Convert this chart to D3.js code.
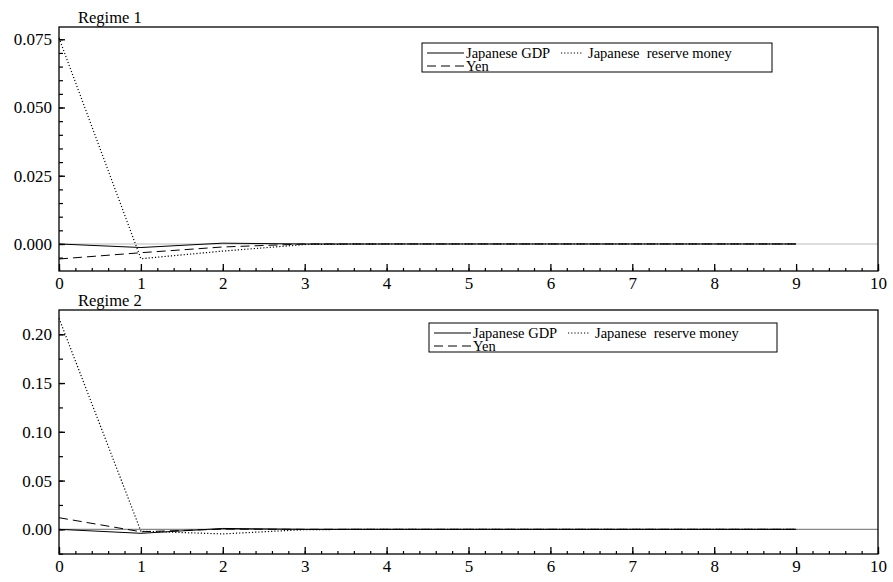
<!DOCTYPE html>
<html>
<head>
<meta charset="utf-8">
<script src="https://cdn.jsdelivr.net/npm/d3@7"></script>
<style>
  body { margin: 0; background: #fff; }
  svg, svg text { font-family: "Liberation Serif", "Times New Roman", serif; }
  .domain { display: none; }
</style>
</head>
<body>
<svg width="893" height="582"></svg>
<script>
const horizon = [0, 1, 2, 3, 4, 5, 6, 7, 8, 9];
const xTicks = [0, 1, 2, 3, 4, 5, 6, 7, 8, 9, 10];

// regime 1 responses
const r1Gdp = [0, -0.0013, 0.0003, 0, 0, 0, 0, 0, 0, 0];
const r1Money = [0.0755, -0.0054, -0.0026, -0.0002, 0, 0, 0, 0, 0, 0];
const r1Yen = [-0.0055, -0.0032, -0.0011, 0, 0, 0, 0, 0, 0, 0];
const r1YTicks = [0, 0.025, 0.05, 0.075];

// regime 2 responses
const r2Gdp = [0, -0.0041, 0.0009, 0, 0, 0, 0, 0, 0, 0];
const r2Money = [0.2164, -0.0019, -0.0047, -0.0003, 0, 0, 0, 0, 0, 0];
const r2Yen = [0.0119, -0.0025, 0.0002, 0, 0, 0, 0, 0, 0, 0];
const r2YTicks = [0, 0.05, 0.1, 0.15, 0.2];

const seriesNames = ['Japanese GDP', 'Japanese  reserve money', 'Yen'];

const left = 59, right = 878;
const serif = '"Liberation Serif", "Times New Roman", serif';
const svg = d3.select('svg');

const panels = [
    {title: 'Regime 1', top: 27, bottom: 271, domain: [-0.0099, 0.0795], ticks: r1YTicks,
     minorStep: 0.005, fmt: '.3f', data: [r1Gdp, r1Money, r1Yen], zeroColor: '#bbb',
     legend: {x: 422, y: 43, w: 350}},
    {title: 'Regime 2', top: 310, bottom: 554, domain: [-0.0253, 0.2249], ticks: r2YTicks,
     minorStep: 0.025, fmt: '.2f', data: [r2Gdp, r2Money, r2Yen], zeroColor: '#888',
     legend: {x: 429, y: 323, w: 348}}
];

const dashes = [null, '1.2,2', '9,5'];

const x = d3.scaleLinear().domain([0, 10]).range([left, right]);

panels.forEach(p => {
    const y = d3.scaleLinear().domain(p.domain).range([p.bottom, p.top]);
    const g = svg.append('g');

    // zero line
    g.append('line')
        .attr('x1', x(0)).attr('x2', x(10))
        .attr('y1', y(0)).attr('y2', y(0))
        .attr('stroke', p.zeroColor).attr('stroke-width', 1.2);

    // minor x ticks
    g.append('g')
        .attr('transform', 'translate(0,' + p.bottom + ')')
        .call(d3.axisBottom(x).tickValues(d3.range(0, 10.001, 0.2)).tickSize(-3).tickFormat(''))
        .selectAll('line').attr('stroke-width', 1.2);

    // major x ticks
    const xa = g.append('g')
        .attr('transform', 'translate(0,' + p.bottom + ')')
        .call(d3.axisBottom(x).tickValues(xTicks).tickSize(-7).tickPadding(6).tickFormat(d3.format('d')));
    xa.selectAll('line').attr('stroke-width', 1.3);
    xa.selectAll('text').style('font-family', serif).style('font-size', '17px');

    // minor y ticks
    const minor = d3.range(Math.ceil(p.domain[0] / p.minorStep) * p.minorStep, p.domain[1], p.minorStep);
    g.append('g')
        .attr('transform', 'translate(' + left + ',0)')
        .call(d3.axisLeft(y).tickValues(minor).tickSize(-4).tickFormat(''))
        .selectAll('line').attr('stroke-width', 1.2);

    // major y ticks
    const ya = g.append('g')
        .attr('transform', 'translate(' + left + ',0)')
        .call(d3.axisLeft(y).tickValues(p.ticks).tickSize(-6).tickPadding(7).tickFormat(d3.format(p.fmt)));
    ya.selectAll('line').attr('stroke-width', 1.3);
    ya.selectAll('text').style('font-family', serif).style('font-size', '17px');

    // frame
    g.append('rect')
        .attr('x', left).attr('y', p.top)
        .attr('width', right - left).attr('height', p.bottom - p.top)
        .attr('fill', 'none').attr('stroke', '#000').attr('stroke-width', 1.3);

    // series
    const line = d3.line().x((d, i) => x(horizon[i])).y(d => y(d));
    p.data.forEach((vals, k) => {
        g.append('path')
            .attr('d', line(vals))
            .attr('fill', 'none')
            .attr('stroke', '#000')
            .attr('stroke-width', k === 1 ? 1.2 : 1)
            .attr('stroke-dasharray', dashes[k]);
    });

    // title
    g.append('text')
        .attr('x', 78).attr('y', p.top - 4)
        .style('font-size', '16.5px')
        .text(p.title);

    // legend
    const L = p.legend;
    const lg = g.append('g').attr('transform', 'translate(' + L.x + ',' + L.y + ')');
    lg.append('rect')
        .attr('width', L.w).attr('height', 29)
        .attr('fill', '#fff').attr('stroke', '#000').attr('stroke-width', 1);
    const items = [
        {k: 0, lx: 5, ly: 10},
        {k: 1, lx: 139, ly: 10},
        {k: 2, lx: 5, ly: 23}
    ];
    items.forEach(it => {
        const len = it.k === 1 ? 22 : 37;
        lg.append('line')
            .attr('x1', it.lx).attr('x2', it.lx + len)
            .attr('y1', it.ly).attr('y2', it.ly)
            .attr('stroke', '#000').attr('stroke-width', 1)
            .attr('stroke-dasharray', it.k === 2 ? '9,5' : dashes[it.k]);
        lg.append('text')
            .attr('x', it.lx + len + (it.k === 1 ? 5 : 2))
            .attr('y', it.ly + 5)
            .style('font-size', '14.5px')
            .style('white-space', 'pre')
            .text(seriesNames[it.k]);
    });
});
</script>
</body>
</html>
